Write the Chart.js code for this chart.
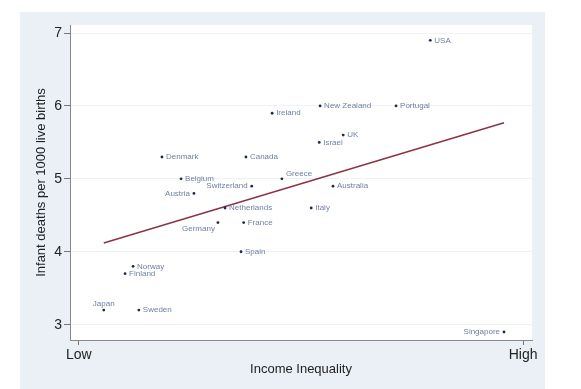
<!DOCTYPE html>
<html><head><meta charset="utf-8">
<script src="https://cdn.jsdelivr.net/npm/chart.js@4/dist/chart.umd.min.js"></script>
<style>html,body{margin:0;padding:0;background:#fff}</style>
</head><body>
<canvas id="c" width="581" height="389"></canvas>
<script>
// Data
const countries = ['USA','New Zealand','Portugal','Ireland','UK','Israel','Denmark','Canada','Greece','Belgium','Switzerland','Australia','Austria','Netherlands','Italy','Germany','France','Spain','Norway','Finland','Japan','Sweden','Singapore'];
const inequality = [7.91,5.43,7.14,4.35,5.95,5.41,1.87,3.76,4.57,2.30,3.89,5.72,2.59,3.29,5.23,3.13,3.71,3.65,1.22,1.04,0.56,1.35,9.57];
const infantDeaths = [6.9,6.0,6.0,5.9,5.6,5.5,5.3,5.3,5.0,5.0,4.9,4.9,4.8,4.6,4.6,4.4,4.4,4.0,3.8,3.7,3.2,3.2,2.9];
const labelSide = ['r','r','r','r','r','r','r','r','tr','r','l','r','l','r','r','bl','r','r','r','r','t','r','l'];
const fitX = [0.56, 9.57];
const fitY = [4.12, 5.77];
const yTicks = [3,4,5,6,7];
const xTickValues = [0,10];
const xTickLabels = ['Low','High'];

const FONT = '"Liberation Sans", Arial, sans-serif';

const bgPlugin = {
  id:'bg',
  beforeDraw(chart){
    const {ctx, chartArea:a} = chart;
    ctx.save();
    ctx.fillStyle='#ffffff'; ctx.fillRect(0,0,chart.width,chart.height);
    ctx.fillStyle='#eaf0f6'; ctx.fillRect(20,12,525,377);
    ctx.fillStyle='#ffffff'; ctx.fillRect(a.left,a.top,a.right-a.left,a.bottom-a.top);
    ctx.restore();
  }
};

const labelPlugin = {
  id:'pointLabels',
  afterDatasetsDraw(chart){
    const meta = chart.getDatasetMeta(0);
    const ctx = chart.ctx;
    ctx.save();
    ctx.font = '8px ' + FONT;
    ctx.fillStyle = '#6f7fa3';
    meta.data.forEach((el,i)=>{
      const s = labelSide[i];
      let x = el.x, y = el.y, align='left', base='middle';
      if (s==='r'){ x+=4; }
      else if (s==='l'){ x-=4; align='right'; }
      else if (s==='tr'){ x+=4; y-=5; }
      else if (s==='t'){ y-=6; align='center'; }
      else if (s==='bl'){ x-=3; y+=6; align='right'; }
      ctx.textAlign=align; ctx.textBaseline=base;
      ctx.fillText(countries[i], x, y);
    });
    ctx.restore();
  }
};

new Chart(document.getElementById('c'), {
  data:{
    datasets:[
      { type:'scatter',
        data: countries.map((c,i)=>({x:inequality[i], y:infantDeaths[i]})),
        pointRadius:1.4, pointHoverRadius:1.4,
        backgroundColor:'#1f2b45', borderColor:'#1f2b45', borderWidth:0 },
      { type:'line',
        data: fitX.map((x,i)=>({x:x, y:fitY[i]})),
        borderColor:'#8c3446', borderWidth:1.6, pointRadius:0, fill:false }
    ]
  },
  options:{
    responsive:false, animation:false, devicePixelRatio:1,
    layout:{padding:{left:0, top:25, right:49, bottom:0}},
    plugins:{legend:{display:false}, tooltip:{enabled:false}},
    scales:{
      x:{ type:'linear', min:-0.2, max:10.2,
        afterBuildTicks(s){ s.ticks = xTickValues.map(v=>({value:v})); },
        afterFit(s){ s.height = 49; },
        ticks:{ callback:(v)=>xTickLabels[xTickValues.indexOf(v)], font:{family:FONT,size:14}, color:'#222', padding:2, maxRotation:0, autoSkip:false },
        grid:{ drawOnChartArea:false, tickLength:5, tickColor:'#777' },
        border:{ color:'#888', width:1 },
        title:{ display:true, text:'Income Inequality', font:{family:FONT,size:13}, color:'#222', padding:{top:0,bottom:12} }
      },
      y:{ type:'linear', min:2.79, max:7.11,
        afterBuildTicks(s){ s.ticks = yTicks.map(v=>({value:v})); },
        afterFit(s){ s.width = 70; },
        ticks:{ font:{family:FONT,size:14}, color:'#222', padding:2 },
        grid:{ color:'#eef2f6', lineWidth:1, tickLength:6, tickColor:'#777' },
        border:{ color:'#888', width:1 },
        title:{ display:true, text:'Infant deaths per 1000 live births', font:{family:FONT,size:13}, color:'#222', padding:{top:34,bottom:0} }
      }
    }
  },
  plugins:[bgPlugin, labelPlugin]
});
</script>
</body></html>
